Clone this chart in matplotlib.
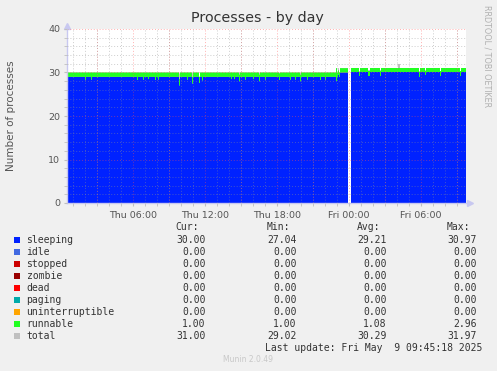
import numpy as np
import matplotlib
matplotlib.use('Agg')
import matplotlib.pyplot as plt
from matplotlib.patches import Rectangle

# ---------------- data ----------------
start_h, end_h = 0.5, 33.75          # hours since Thu 00:00
sample_h = 5 / 60                    # 5-minute samples
seg_start = [0.5, 23.25]
seg_sleeping = [29.0, 30.0]
seg_runnable = [1.0, 1.0]
seg_total = [30.0, 31.0]
gap_start, gap_end = 23.92, 24.14

dip_t = [1.975, 2.53, 6.31, 6.81, 7.25, 7.81, 8.08, 9.81, 10.48, 10.92, 11.53, 11.75,
         14.17, 14.44, 14.86, 15.33, 15.98, 16.53, 17.0, 18.17, 19.06, 19.48, 19.89,
         20.53, 21.56, 21.98, 22.94, 23.08,
         24.81, 25.6, 25.68, 26.56, 28.1, 28.2, 29.81, 30.31, 31.56, 33.22]
dip_sleeping = [28.4, 28.4, 28.3, 28.4, 28.5, 28.3, 28.4, 27.04, 28.4, 27.5, 27.6, 28.2,
                28.5, 28.5, 28.0, 28.4, 28.5, 28.0, 28.4, 28.3, 28.4, 28.4, 28.0,
                28.4, 28.3, 28.4, 28.04, 29.5,
                29.2, 29.3, 29.3, 29.3, 30.0, 30.0, 29.0, 29.4, 29.3, 29.3]
dip_runnable = [1.6, 1.6, 1.7, 1.6, 1.5, 1.7, 1.6, 1.5, 1.6, 1.5, 1.42, 1.8,
                1.5, 1.5, 1.5, 1.6, 1.5, 1.5, 1.6, 1.5, 1.6, 1.6, 1.5,
                1.6, 1.7, 1.6, 2.96, 1.0,
                1.0, 1.0, 1.0, 1.0, 1.0, 1.0, 1.2, 1.0, 1.0, 1.0]
dip_total = [30, 30, 30, 30, 30, 30, 30, 29.8, 30, 30, 29.02, 30,
             30, 30, 30, 30, 30, 30, 30, 30, 30, 30, 30,
             30, 30, 30, 31, 31,
             30.4, 30.5, 30.5, 30.5, 31.97, 31.97, 30.3, 30.5, 30.4, 30.4]

tick_pos = [6, 12, 18, 24, 30]
tick_labels = ["Thu 06:00", "Thu 12:00", "Thu 18:00", "Fri 00:00", "Fri 06:00"]

legend_names = ["sleeping", "idle", "stopped", "zombie", "dead", "paging",
                "uninterruptible", "runnable", "total"]
legend_colors = ["#0022FF", "#4169E1", "#CC0000", "#990000", "#FF0000", "#00AAAA",
                 "#FFA500", "#22FF22", "#C0C0C0"]
cur_vals = [30.00, 0.00, 0.00, 0.00, 0.00, 0.00, 0.00, 1.00, 31.00]
min_vals = [27.04, 0.00, 0.00, 0.00, 0.00, 0.00, 0.00, 1.00, 29.02]
avg_vals = [29.21, 0.00, 0.00, 0.00, 0.00, 0.00, 0.00, 1.08, 30.29]
max_vals = [30.97, 0.00, 0.00, 0.00, 0.00, 0.00, 0.00, 2.96, 31.97]

# ---------------- build series ----------------
n = int(round((end_h - start_h) / sample_h))
t = start_h + np.arange(n + 1) * sample_h
sleeping = np.zeros(n + 1)
runnable = np.zeros(n + 1)
total = np.zeros(n + 1)
for i, s in enumerate(seg_start):
    m = t >= s - 1e-9
    sleeping[m] = seg_sleeping[i]
    runnable[m] = seg_runnable[i]
    total[m] = seg_total[i]
for dt, ds, dr, dtot in zip(dip_t, dip_sleeping, dip_runnable, dip_total):
    k = int(np.argmin(np.abs(t - dt)))
    sleeping[k] = ds
    runnable[k] = dr
    total[k] = dtot
gapm = (t >= gap_start) & (t < gap_end)
sleeping[gapm] = np.nan
runnable[gapm] = np.nan
total[gapm] = np.nan

# ---------------- figure ----------------
W, H = 497, 371
fig = plt.figure(figsize=(W / 100, H / 100), dpi=100)
fig.patch.set_facecolor("#F0F0F0")

def fx(x):
    return x / W

def fy(y):
    return 1 - y / H

ax = fig.add_axes([fx(67), fy(203), fx(466) - fx(67), fy(29) - fy(203)])
ax.set_facecolor("white")

valid = ~np.isnan(sleeping)
ax.fill_between(t, 0, np.nan_to_num(total), where=valid, step="post",
                color="#C0C0C0", lw=0, zorder=1)
ax.fill_between(t, 0, np.nan_to_num(sleeping), where=valid, step="post",
                color="#0022FF", lw=0, zorder=1.1)
ax.fill_between(t, np.nan_to_num(sleeping), np.nan_to_num(sleeping + runnable),
                where=valid, step="post", color="#22FF22", lw=0, zorder=1.2)

ax.set_xlim(start_h, end_h)
ax.set_ylim(0, 40)

ax.set_xticks(tick_pos)
ax.set_xticklabels(tick_labels)
ax.set_yticks([0, 10, 20, 30, 40])
ax.set_xticks(np.arange(1, 34, 1), minor=True)
ax.set_yticks(np.arange(0, 41, 2), minor=True)

ax.set_axisbelow(False)
ax.grid(which="minor", color="#909090", alpha=0.45, linestyle=(0, (1, 2)),
        lw=0.7, zorder=2)
ax.grid(which="major", visible=False)
for h in np.arange(3, 34, 3):
    ax.axvline(h, color="#FF5050", alpha=0.45, linestyle=(0, (1, 2)), lw=0.7, zorder=2.1)
for v in [10, 20, 30, 40]:
    ax.axhline(v, color="#FF5050", alpha=0.45, linestyle=(0, (1, 2)), lw=0.7, zorder=2.1)

ax.tick_params(axis="both", which="both", length=2, color="#C0C0C0",
               labelcolor="#555555", labelsize=6.8, pad=3)
ax.tick_params(axis="x", which="major", pad=4)
for side in ["top", "right"]:
    ax.spines[side].set_visible(False)
for side in ["left", "bottom"]:
    ax.spines[side].set_color("#C8C8F0")
    ax.spines[side].set_linewidth(1.0)

# axis arrows
ax.plot([0], [1.02], marker="^", color="#C8C8F0", markersize=4,
        transform=ax.transAxes, clip_on=False)
ax.plot([1.01], [0], marker=">", color="#C8C8F0", markersize=4,
        transform=ax.transAxes, clip_on=False)

ax.set_ylabel("Number of processes", fontsize=7.5, color="#555555")
ax_w = fx(466) - fx(67)
ax.yaxis.set_label_coords((fx(16) - fx(67)) / ax_w, 0.5)

fig.text(fx(257), fy(18), "Processes - by day", ha="center", va="center",
         fontsize=10.3, color="#333333")
fig.text(fx(487), fy(5), "RRDTOOL / TOBI OETIKER", ha="center", va="top",
         rotation=270, fontsize=5.8, color="#B0B0B0")

# ---------------- legend table ----------------
mono = "DejaVu Sans Mono"
fs = 7
tc = "#333333"
header_y = 226.7
for label, xr in zip(["Cur:", "Min:", "Avg:", "Max:"], [199, 290, 380, 470]):
    fig.text(fx(xr), fy(header_y), label, ha="right", va="center",
             family=mono, fontsize=fs, color=tc)

row_y0, row_dy = 239.7, 12.0
for i, name in enumerate(legend_names):
    y = row_y0 + i * row_dy
    fig.add_artist(Rectangle((fx(14), fy(y + 3)), 6 / W, 6 / H,
                             transform=fig.transFigure,
                             facecolor=legend_colors[i], edgecolor="none"))
    fig.text(fx(26.5), fy(y), name, ha="left", va="center",
             family=mono, fontsize=fs, color=tc)
    for vals, xr in zip([cur_vals, min_vals, avg_vals, max_vals],
                        [205.7, 296.7, 386.7, 476.7]):
        fig.text(fx(xr), fy(y), f"{vals[i]:.2f}", ha="right", va="center",
                 family=mono, fontsize=fs, color=tc)

fig.text(fx(482.7), fy(347.7), "Last update: Fri May  9 09:45:18 2025",
         ha="right", va="center", family=mono, fontsize=fs, color=tc)
fig.text(fx(248), fy(360), "Munin 2.0.49", ha="center", va="center",
         fontsize=5.5, color="#C8C8C8")

fig.savefig("out.png", dpi=100, facecolor=fig.get_facecolor())
